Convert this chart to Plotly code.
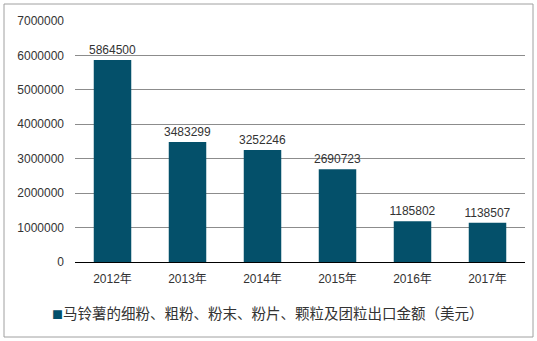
import plotly.graph_objects as go

categories = ["2012年", "2013年", "2014年", "2015年", "2016年", "2017年"]
values = [5864500, 3483299, 3252246, 2690723, 1185802, 1138507]
series_name = "马铃薯的细粉、粗粉、粉末、粉片、颗粒及团粒出口金额（美元）"
tick_vals = [0, 1000000, 2000000, 3000000, 4000000, 5000000, 6000000, 7000000]
tick_text = [str(v) for v in tick_vals]
bar_color = "#04506a"

W, H = 537, 341
L, R, T, B = 75, 12, 21, 79
pw, ph = W - L - R, H - T - B

def px_x(px):
    return (px - L) / pw

def px_y(py):
    return (H - B - py) / ph

font = "Liberation Sans, Arial, Noto Sans CJK SC, sans-serif"

fig = go.Figure()
fig.add_trace(go.Bar(
    x=categories, y=values, name=series_name,
    marker=dict(color=bar_color, line=dict(width=0)),
    text=[str(v) for v in values], textposition="outside",
    constraintext="none",
    textfont=dict(size=12, color="#333333", family=font),
    cliponaxis=False, showlegend=False,
))

fig.add_annotation(
    xref="paper", yref="paper", x=px_x(50), y=px_y(312),
    xanchor="left", yanchor="middle", showarrow=False,
    text=f"<span style='color:{bar_color}; font-size:11px'>■</span>{series_name}",
    font=dict(size=14.5, color="#333333", family="Noto Sans CJK SC, sans-serif"),
)

fig.update_layout(
    width=W, height=H,
    margin=dict(l=L, r=R, t=T, b=B),
    plot_bgcolor="white", paper_bgcolor="white",
    bargap=0.5,
    uniformtext=dict(minsize=12, mode="show"),
    font=dict(family=font, size=12, color="#333333"),
    xaxis=dict(showline=True, linecolor="#000000", linewidth=1, ticks="",
               ticklabelstandoff=6,
               tickfont=dict(size=12, color="#333333"), showgrid=False),
    yaxis=dict(range=[0, 7000000], tickvals=tick_vals, ticktext=tick_text,
               showgrid=True, gridcolor="#8c8c8c", gridwidth=1, zeroline=False,
               showline=False, ticks="", ticklabelstandoff=10,
               tickfont=dict(size=12, color="#333333")),
    shapes=[dict(type="rect", xref="paper", yref="paper",
                 x0=px_x(4), x1=px_x(533), y0=px_y(337), y1=px_y(4),
                 line=dict(color="#a0a0a0", width=1), fillcolor="rgba(0,0,0,0)", layer="below")],
)

fig.write_html("out.html")
